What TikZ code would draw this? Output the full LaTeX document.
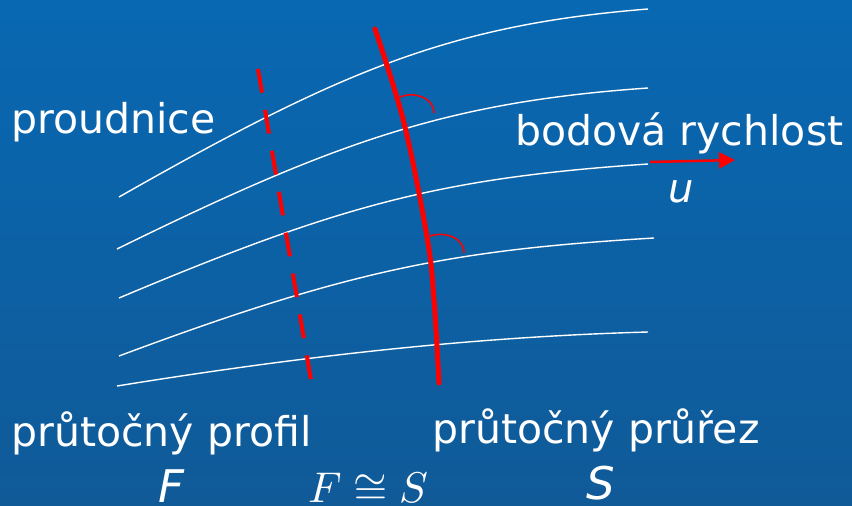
\documentclass[tikz,border=0pt]{standalone}
\usepackage{fontspec}
\setmainfont{DejaVu Sans}
\usepackage{tikz}
\usetikzlibrary{arrows.meta, positioning}

\definecolor{bgtop}{RGB}{8,104,178}
\definecolor{bgbot}{RGB}{16,90,152}
\definecolor{flowred}{RGB}{255,0,0}

\begin{document}
\begin{tikzpicture}[
      x=1pt, y=-1pt,
      stream/.style={draw=white, line width=1.4pt},
      prof/.style={draw=flowred, line width=4pt, dash pattern=on 24pt off 17.5pt},
      sect/.style={draw=flowred, line width=5pt, line cap=round},
      ang/.style={draw=flowred, line width=1.5pt},
      vel/.style={draw=flowred, line width=2.5pt, -{Triangle[length=16pt, width=16pt]}},
      lbl/.style={text=white, inner sep=0pt, font=\fontsize{41}{44}\selectfont},
      sym/.style={text=white, inner sep=0pt, font=\fontsize{45}{48}\selectfont\itshape},
    ]
    % ---- background ----
    \shade[top color=bgtop, bottom color=bgbot] (0,0) rectangle (852,506);
    \useasboundingbox (0,0) rectangle (852,506);

    % ---- streamlines ----
    \draw[stream] (119,197) .. controls (339,72) and (448,25) .. (648,9);
    \draw[stream] (117,249) .. controls (337,141) and (448,102) .. (648,88);
    \draw[stream] (119,298) .. controls (340,205) and (440,178) .. (648,164);
    \draw[stream] (119,356) .. controls (352,269) and (454,250) .. (654,238);
    \draw[stream] (117,386) .. controls (297,357) and (468,337) .. (648,332);

    % ---- flow profile (dashed) and cross-section (solid) ----
    \draw[prof] (258,69) -- (312,386);
    \draw[sect] plot[smooth, tension=0.6] coordinates
      {(375,29) (404,123) (427,237) (434,300) (439,383)};

    % right angles between cross-section and streamlines
    \draw[ang] (400,97) .. controls (415,91) and (434,98) .. (434,113);
    \draw[ang] (430,236) .. controls (446,231) and (464,238) .. (464,253);

    % ---- point velocity ----
    \coordinate (uS) at (650,162);
    \coordinate (uE) at (735,160);
    \draw[vel] (uS) -- (uE);

    % ---- labels ----
    \node[lbl, anchor=base west] (tstream) at (11,133) {proudnice};
    \node[lbl, anchor=base west] (tvel) at (515,145) {bodová rychlost};
    \node[sym, anchor=base west, font=\fontsize{40}{42}\selectfont\itshape] (tu) at (668,202) {u};
    \node[lbl, anchor=base west] (tprof) at (11,446) {průtočný profil};
    \node[lbl, anchor=base west] (tsect) at (432,443) {průtočný průřez};
    \node[sym, anchor=base west] (tF) at (158,502) {F};
    \node[text=white, inner sep=0pt, anchor=base west] (teq) at (308,502)
          {\scalebox{4.3}{$F \cong S$}};
    \node[sym, anchor=base west] (tS) at (586,499) {S};
  \end{tikzpicture}
\end{document}
